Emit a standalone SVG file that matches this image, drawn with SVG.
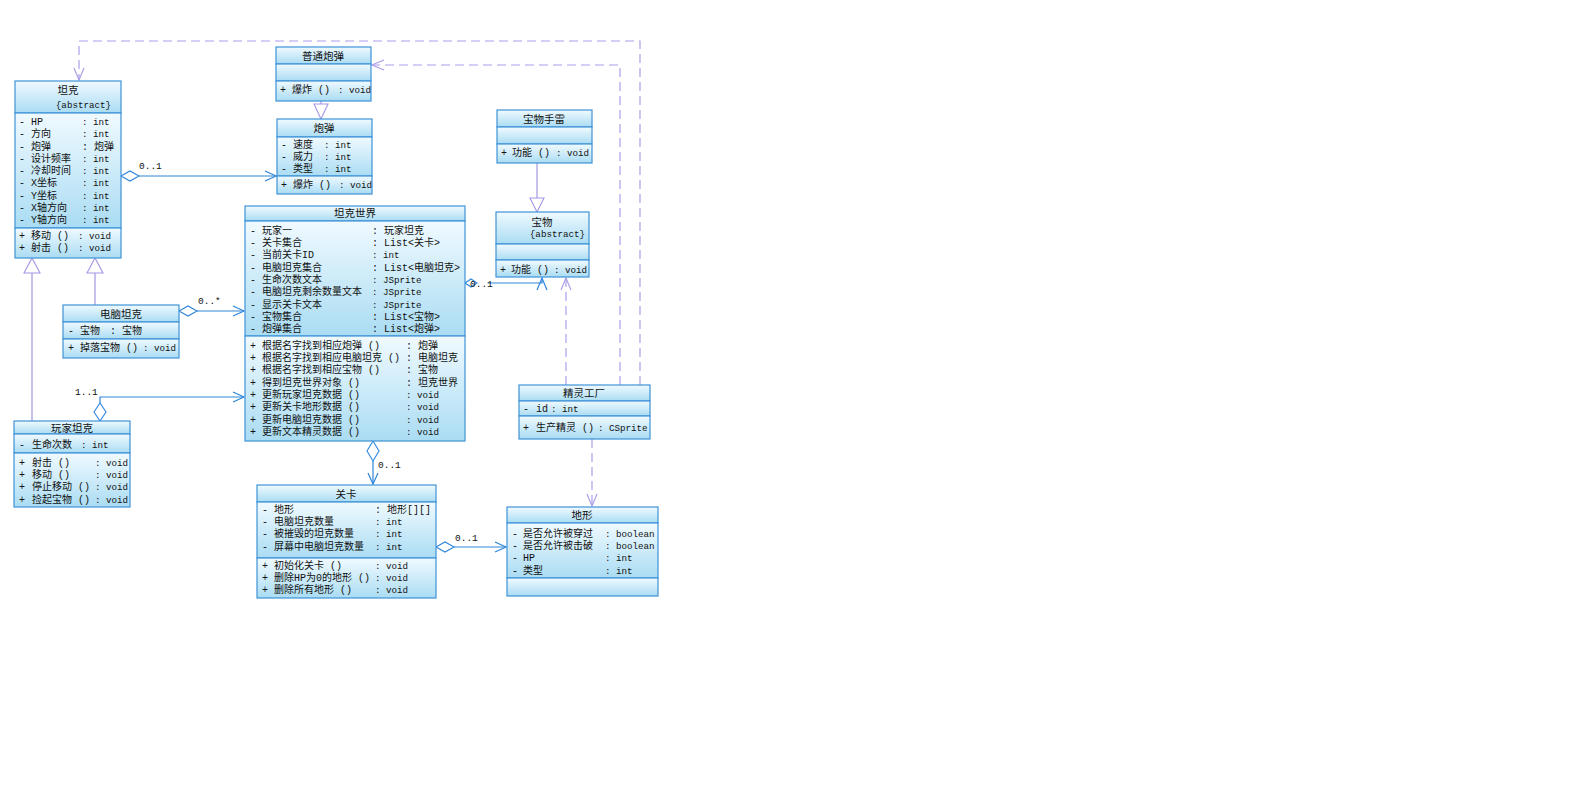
<svg xmlns="http://www.w3.org/2000/svg" width="1583" height="793" viewBox="0 0 1583 793">
<defs>
<linearGradient id="g" x1="0" y1="0" x2="0" y2="1">
<stop offset="0" stop-color="#f0faff"/>
<stop offset="1" stop-color="#aadcf3"/>
</linearGradient>
<style>
.c{fill:url(#g);stroke:#3f93d8;stroke-width:1.2}
text{font-family:"Liberation Mono","Noto Sans CJK SC",monospace;font-size:10px;fill:#111}
.e{font-size:9.2px}
.t{text-anchor:middle;font-size:10.5px}
.as{fill:none;stroke:#2f86da;stroke-width:1.2}
.dm{fill:#ffffff;stroke:#2f86da;stroke-width:1.1}
.ge{fill:none;stroke:#a596e6;stroke-width:1.2}
.tri{fill:#ffffff;stroke:#a596e6;stroke-width:1.1}
.dep{fill:none;stroke:#ad9ee9;stroke-width:1.2;stroke-dasharray:9,5}
.dh{fill:none;stroke:#ad9ee9;stroke-width:1.2}
.lb{font-size:9.5px}
</style>
</defs>
<rect x="0" y="0" width="1583" height="793" fill="#ffffff"/>

<g id="connectors">
<path class="dep" d="M640,385 L640,41 L79,41 L79,80"/>
<path class="dh" d="M74,68 L79,80 L84,68"/>
<path class="dep" d="M620,385 L620,65 L372,65"/>
<path class="dh" d="M384,60 L372,65 L384,70"/>
<path class="dep" d="M566,385 L566,278"/>
<path class="dh" d="M561,290 L566,278 L571,290"/>
<path class="dep" d="M592,439 L592,506"/>
<path class="dh" d="M587,494 L592,506 L597,494"/>
<path class="ge" d="M321,101 L321,104"/>
<polygon class="tri" points="314,104 328,104 321,119"/>
<path class="ge" d="M537,163 L537,198"/>
<polygon class="tri" points="530,198 544,198 537,212"/>
<path class="ge" d="M95,305 L95,273"/>
<polygon class="tri" points="87,273 103,273 95,258"/>
<path class="ge" d="M32,421 L32,273"/>
<polygon class="tri" points="24,273 40,273 32,258"/>
<path class="as" d="M139,176 L276,176"/>
<polygon class="dm" points="121,176 130,171 139,176 130,181"/>
<path class="as" d="M265,171 L276,176 L265,181"/>
<text class="lb" x="139" y="169">0..1</text>
<path class="as" d="M197,311 L244,311"/>
<polygon class="dm" points="179,311 188,306 197,311 188,316"/>
<path class="as" d="M233,306 L244,311 L233,316"/>
<text class="lb" x="198" y="304">0..*</text>
<path class="as" d="M100,403 L100,397 L244,397"/>
<polygon class="dm" points="100,421 94,412 100,403 106,412"/>
<path class="as" d="M233,392 L244,397 L233,402"/>
<text class="lb" x="75" y="395">1..1</text>
<path class="as" d="M373,461 L373,484"/>
<polygon class="dm" points="373,441 379,451 373,461 367,451"/>
<path class="as" d="M368,473 L373,484 L378,473"/>
<text class="lb" x="378" y="468">0..1</text>
<path class="as" d="M454,547 L506,547"/>
<polygon class="dm" points="436,547 445,542 454,547 445,552"/>
<path class="as" d="M495,542 L506,547 L495,552"/>
<text class="lb" x="455" y="541">0..1</text>
<path class="as" d="M488,283 L542,283 L542,278"/>
<polygon class="dm" points="465,283 471,279 477,283 471,287"/>
<path class="as" d="M537,290 L542,278 L547,290"/>
<text class="lb" x="470" y="287">0..1</text>
</g>

<g id="tank">
<rect class="c" x="15" y="81" width="106" height="32"/>
<rect class="c" x="15" y="113" width="106" height="115"/>
<rect class="c" x="15" y="228" width="106" height="30"/>
<text class="t" x="68" y="94">坦克</text>
<text class="e" x="111" y="108" text-anchor="end">{abstract}</text>
<text y="125"><tspan x="19">-</tspan><tspan x="31">HP</tspan><tspan class="e" x="82">: int</tspan></text>
<text y="137"><tspan x="19">-</tspan><tspan x="31">方向</tspan><tspan class="e" x="82">: int</tspan></text>
<text y="150"><tspan x="19">-</tspan><tspan x="31">炮弹</tspan><tspan x="82">: 炮弹</tspan></text>
<text y="162"><tspan x="19">-</tspan><tspan x="31">设计频率</tspan><tspan class="e" x="82">: int</tspan></text>
<text y="174"><tspan x="19">-</tspan><tspan x="31">冷却时间</tspan><tspan class="e" x="82">: int</tspan></text>
<text y="186"><tspan x="19">-</tspan><tspan x="31">X坐标</tspan><tspan class="e" x="82">: int</tspan></text>
<text y="199"><tspan x="19">-</tspan><tspan x="31">Y坐标</tspan><tspan class="e" x="82">: int</tspan></text>
<text y="211"><tspan x="19">-</tspan><tspan x="31">X轴方向</tspan><tspan class="e" x="82">: int</tspan></text>
<text y="223"><tspan x="19">-</tspan><tspan x="31">Y轴方向</tspan><tspan class="e" x="82">: int</tspan></text>
<text y="239"><tspan x="19">+</tspan><tspan x="31">移动 ()</tspan><tspan class="e" x="78">: void</tspan></text>
<text y="251"><tspan x="19">+</tspan><tspan x="31">射击 ()</tspan><tspan class="e" x="78">: void</tspan></text>
</g>

<g id="normal-shell">
<rect class="c" x="276" y="47" width="95" height="17"/>
<rect class="c" x="276" y="64" width="95" height="17"/>
<rect class="c" x="276" y="81" width="95" height="20"/>
<text class="t" x="323" y="60">普通炮弹</text>
<text y="93"><tspan x="280">+</tspan><tspan x="292">爆炸 ()</tspan><tspan class="e" x="338">: void</tspan></text>
</g>

<g id="shell">
<rect class="c" x="277" y="119" width="95" height="18"/>
<rect class="c" x="277" y="137" width="95" height="39"/>
<rect class="c" x="277" y="176" width="95" height="18"/>
<text class="t" x="324" y="132">炮弹</text>
<text y="148"><tspan x="281">-</tspan><tspan x="293">速度</tspan><tspan class="e" x="324">: int</tspan></text>
<text y="160"><tspan x="281">-</tspan><tspan x="293">威力</tspan><tspan class="e" x="324">: int</tspan></text>
<text y="172"><tspan x="281">-</tspan><tspan x="293">类型</tspan><tspan class="e" x="324">: int</tspan></text>
<text y="188"><tspan x="281">+</tspan><tspan x="293">爆炸 ()</tspan><tspan class="e" x="339">: void</tspan></text>
</g>

<g id="treasure-grenade">
<rect class="c" x="497" y="110" width="95" height="17"/>
<rect class="c" x="497" y="127" width="95" height="17"/>
<rect class="c" x="497" y="144" width="95" height="19"/>
<text class="t" x="544" y="123">宝物手雷</text>
<text y="156"><tspan x="501">+</tspan><tspan x="512">功能 ()</tspan><tspan class="e" x="556">: void</tspan></text>
</g>

<g id="treasure">
<rect class="c" x="496" y="212" width="93" height="32"/>
<rect class="c" x="496" y="244" width="93" height="16"/>
<rect class="c" x="496" y="260" width="93" height="17"/>
<text class="t" x="542" y="226">宝物</text>
<text class="e" x="585" y="237" text-anchor="end">{abstract}</text>
<text y="273"><tspan x="500">+</tspan><tspan x="511">功能 ()</tspan><tspan class="e" x="554">: void</tspan></text>
</g>

<g id="tank-world">
<rect class="c" x="245" y="206" width="220" height="15"/>
<rect class="c" x="245" y="221" width="220" height="115"/>
<rect class="c" x="245" y="336" width="220" height="105"/>
<text class="t" x="355" y="217">坦克世界</text>
<text y="234"><tspan x="250">-</tspan><tspan x="262">玩家一</tspan><tspan x="372">: 玩家坦克</tspan></text>
<text y="246"><tspan x="250">-</tspan><tspan x="262">关卡集合</tspan><tspan x="372">: List&lt;关卡&gt;</tspan></text>
<text y="258"><tspan x="250">-</tspan><tspan x="262">当前关卡ID</tspan><tspan class="e" x="372">: int</tspan></text>
<text y="271"><tspan x="250">-</tspan><tspan x="262">电脑坦克集合</tspan><tspan x="372">: List&lt;电脑坦克&gt;</tspan></text>
<text y="283"><tspan x="250">-</tspan><tspan x="262">生命次数文本</tspan><tspan class="e" x="372">: JSprite</tspan></text>
<text y="295"><tspan x="250">-</tspan><tspan x="262">电脑坦克剩余数量文本</tspan><tspan class="e" x="372">: JSprite</tspan></text>
<text y="308"><tspan x="250">-</tspan><tspan x="262">显示关卡文本</tspan><tspan class="e" x="372">: JSprite</tspan></text>
<text y="320"><tspan x="250">-</tspan><tspan x="262">宝物集合</tspan><tspan x="372">: List&lt;宝物&gt;</tspan></text>
<text y="332"><tspan x="250">-</tspan><tspan x="262">炮弹集合</tspan><tspan x="372">: List&lt;炮弹&gt;</tspan></text>
<text y="349"><tspan x="250">+</tspan><tspan x="262">根据名字找到相应炮弹 ()</tspan><tspan x="406">: 炮弹</tspan></text>
<text y="361"><tspan x="250">+</tspan><tspan x="262">根据名字找到相应电脑坦克 ()</tspan><tspan x="406">: 电脑坦克</tspan></text>
<text y="373"><tspan x="250">+</tspan><tspan x="262">根据名字找到相应宝物 ()</tspan><tspan x="406">: 宝物</tspan></text>
<text y="386"><tspan x="250">+</tspan><tspan x="262">得到坦克世界对象 ()</tspan><tspan x="406">: 坦克世界</tspan></text>
<text y="398"><tspan x="250">+</tspan><tspan x="262">更新玩家坦克数据 ()</tspan><tspan class="e" x="406">: void</tspan></text>
<text y="410"><tspan x="250">+</tspan><tspan x="262">更新关卡地形数据 ()</tspan><tspan class="e" x="406">: void</tspan></text>
<text y="423"><tspan x="250">+</tspan><tspan x="262">更新电脑坦克数据 ()</tspan><tspan class="e" x="406">: void</tspan></text>
<text y="435"><tspan x="250">+</tspan><tspan x="262">更新文本精灵数据 ()</tspan><tspan class="e" x="406">: void</tspan></text>
</g>

<g id="computer-tank">
<rect class="c" x="63" y="305" width="116" height="17"/>
<rect class="c" x="63" y="322" width="116" height="17"/>
<rect class="c" x="63" y="339" width="116" height="19"/>
<text class="t" x="121" y="318">电脑坦克</text>
<text y="334"><tspan x="68">-</tspan><tspan x="80">宝物</tspan><tspan x="110">: 宝物</tspan></text>
<text y="351"><tspan x="68">+</tspan><tspan x="80">掉落宝物 ()</tspan><tspan class="e" x="143">: void</tspan></text>
</g>

<g id="player-tank">
<rect class="c" x="14" y="421" width="116" height="13"/>
<rect class="c" x="14" y="434" width="116" height="19"/>
<rect class="c" x="14" y="453" width="116" height="54"/>
<text class="t" x="72" y="432">玩家坦克</text>
<text y="448"><tspan x="19">-</tspan><tspan x="32">生命次数</tspan><tspan class="e" x="81">: int</tspan></text>
<text y="466"><tspan x="19">+</tspan><tspan x="32">射击 ()</tspan><tspan class="e" x="95">: void</tspan></text>
<text y="478"><tspan x="19">+</tspan><tspan x="32">移动 ()</tspan><tspan class="e" x="95">: void</tspan></text>
<text y="490"><tspan x="19">+</tspan><tspan x="32">停止移动 ()</tspan><tspan class="e" x="95">: void</tspan></text>
<text y="503"><tspan x="19">+</tspan><tspan x="32">捡起宝物 ()</tspan><tspan class="e" x="95">: void</tspan></text>
</g>

<g id="level">
<rect class="c" x="257" y="485" width="179" height="17"/>
<rect class="c" x="257" y="502" width="179" height="56"/>
<rect class="c" x="257" y="558" width="179" height="40"/>
<text class="t" x="346" y="498">关卡</text>
<text y="513"><tspan x="262">-</tspan><tspan x="274">地形</tspan><tspan x="375">: 地形[][]</tspan></text>
<text y="525"><tspan x="262">-</tspan><tspan x="274">电脑坦克数量</tspan><tspan class="e" x="375">: int</tspan></text>
<text y="537"><tspan x="262">-</tspan><tspan x="274">被摧毁的坦克数量</tspan><tspan class="e" x="375">: int</tspan></text>
<text y="550"><tspan x="262">-</tspan><tspan x="274">屏幕中电脑坦克数量</tspan><tspan class="e" x="375">: int</tspan></text>
<text y="569"><tspan x="262">+</tspan><tspan x="274">初始化关卡 ()</tspan><tspan class="e" x="375">: void</tspan></text>
<text y="581"><tspan x="262">+</tspan><tspan x="274">删除HP为0的地形 ()</tspan><tspan class="e" x="375">: void</tspan></text>
<text y="593"><tspan x="262">+</tspan><tspan x="274">删除所有地形 ()</tspan><tspan class="e" x="375">: void</tspan></text>
</g>

<g id="terrain">
<rect class="c" x="507" y="507" width="151" height="16"/>
<rect class="c" x="507" y="523" width="151" height="55"/>
<rect class="c" x="507" y="578" width="151" height="18"/>
<text class="t" x="582" y="519">地形</text>
<text y="537"><tspan x="512">-</tspan><tspan x="523">是否允许被穿过</tspan><tspan class="e" x="605">: boolean</tspan></text>
<text y="549"><tspan x="512">-</tspan><tspan x="523">是否允许被击破</tspan><tspan class="e" x="605">: boolean</tspan></text>
<text y="561"><tspan x="512">-</tspan><tspan x="523">HP</tspan><tspan class="e" x="605">: int</tspan></text>
<text y="574"><tspan x="512">-</tspan><tspan x="523">类型</tspan><tspan class="e" x="605">: int</tspan></text>
</g>

<g id="sprite-factory">
<rect class="c" x="519" y="385" width="131" height="16"/>
<rect class="c" x="519" y="401" width="131" height="15"/>
<rect class="c" x="519" y="416" width="131" height="23"/>
<text class="t" x="584" y="397">精灵工厂</text>
<text y="412"><tspan x="523">-</tspan><tspan x="536">id</tspan><tspan class="e" x="551">: int</tspan></text>
<text y="431"><tspan x="523">+</tspan><tspan x="536">生产精灵 ()</tspan><tspan class="e" x="598">: CSprite</tspan></text>
</g>
</svg>
